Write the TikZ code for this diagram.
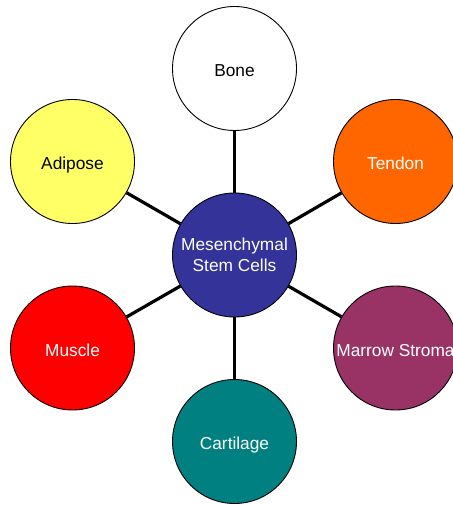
\documentclass[tikz,border=0pt]{standalone}
\usepackage{fontspec}
\setmainfont{Liberation Sans}
\definecolor{mscblue}{HTML}{333399}
\definecolor{tendonc}{HTML}{FF6600}
\definecolor{marrowc}{HTML}{993366}
\definecolor{cartc}{HTML}{008080}
\definecolor{musclec}{HTML}{FF0000}
\definecolor{adipc}{HTML}{FFFF66}
\begin{document}
\begin{tikzpicture}[x=1pt,y=-1pt,
  cell/.style={circle,draw=black,line width=0.9pt,minimum size=124pt,inner sep=0pt,
    font=\fontsize{17.3}{21}\selectfont,align=center},
  oneline/.style={text height=16pt,text depth=0pt},
  link/.style={line width=3.2pt,black}]
\useasboundingbox (0,0) rectangle (452,505);
\node[cell,oneline,fill=white,text=black] (bone) at (234.5,68.5) {Bone};
\node[cell,oneline,fill=tendonc,text=white] (tendon) at (395.5,161.5) {Tendon};
\node[cell,oneline,fill=marrowc,text=white] (marrow) at (395.5,348) {Marrow Stroma};
\node[cell,oneline,fill=cartc,text=white] (cart) at (234.5,441.5) {Cartilage};
\node[cell,oneline,fill=musclec,text=white] (muscle) at (72.5,348) {Muscle};
\node[cell,oneline,fill=adipc,text=black] (adip) at (72.5,161.5) {Adipose};
\node[cell,fill=mscblue,text=white] (msc) at (234.5,255) {Mesenchymal\\Stem Cells};
\foreach \n in {bone,tendon,marrow,cart,muscle,adip}
  \draw[link] (msc) -- (\n);
\end{tikzpicture}
\end{document}
